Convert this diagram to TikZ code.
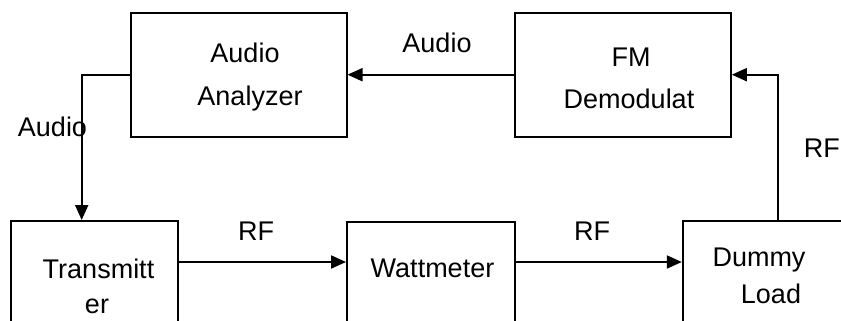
\documentclass[tikz,border=0pt]{standalone}
\usepackage{fontspec}
\setmainfont{Liberation Sans}
\usetikzlibrary{arrows.meta}
\begin{document}
\begin{tikzpicture}[x=1pt,y=-1pt,
  box/.style={draw,line width=2pt,minimum height=124pt,inner sep=0pt},
  txt/.style={anchor=base,inner sep=0pt,font=\fontsize{27}{40}\selectfont},
  arr/.style={line width=2pt,-{Triangle[length=15pt,width=13pt]}}]
\clip (0,0) rectangle (841,321);
\fill[white] (0,0) rectangle (841,321);
% boxes
\node[box,minimum width=216pt] (ana) at (238.5,74.7) {};
\node[box,minimum width=216pt] (fm) at (622.8,74.7) {};
\node[box,minimum width=167pt] (tx) at (94,283) {};
\node[box,minimum width=168pt] (wm) at (431,283.5) {};
\node[box,minimum width=191pt] (dl) at (778.3,283) {};
% box texts
\node[txt] (anat1) at (245,63) {Audio};
\node[txt] (anat2) at (250,105) {Analyzer};
\node[txt] (fmt1) at (631,66.7) {FM};
\node[txt] (fmt2) at (629,108) {Demodulat};
\node[txt] (txt1) at (98.5,278) {Transmitt};
\node[txt] (txt2) at (97,313) {er};
\node[txt] (wmt) at (432.5,277) {Wattmeter};
\node[txt] (dlt1) at (759,266.7) {Dummy};
\node[txt] (dlt2) at (771,303) {Load};
% connectors
\coordinate (rfy) at (0,262);
\draw[arr] (fm.west) -- (ana.east);
\draw[arr] (dl.north) |- (fm.east);
\draw[arr] (ana.west) -| ([xshift=-12.3pt]tx.north);
\draw[arr] (tx.east |- rfy) -- (wm.west |- rfy);
\draw[arr] (wm.east |- rfy) -- (dl.west |- rfy);
% labels
\node[txt] (l1) at (437,53) {Audio};
\node[txt] (l2) at (52.5,136.7) {Audio};
\node[txt] (l3) at (256,240) {RF};
\node[txt] (l4) at (592,240) {RF};
\node[txt,anchor=base east] (l5) at (840,157) {RF};
\end{tikzpicture}
\end{document}
